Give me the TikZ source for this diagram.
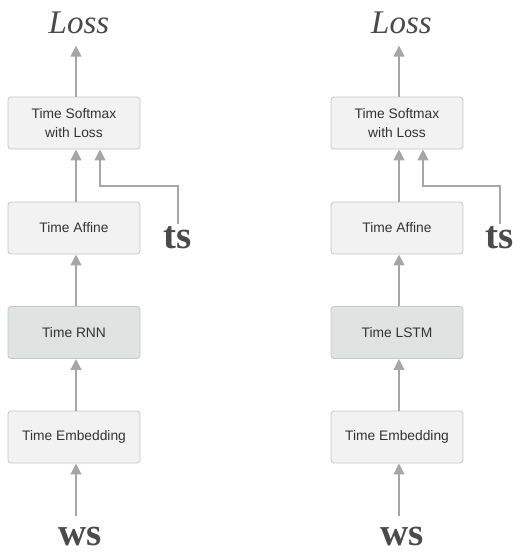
\documentclass[tikz,border=0pt]{standalone}
\usepackage{fontspec}
\setmainfont{Liberation Serif}
\newfontfamily\boxfont{Liberation Sans}
\usetikzlibrary{arrows.meta}
\definecolor{arrowgray}{HTML}{A6A6A6}
\definecolor{boxline}{HTML}{C6C6C6}
\definecolor{boxfill}{HTML}{F2F2F2}
\definecolor{rnnfill}{HTML}{E1E2E2}
\definecolor{labelgray}{HTML}{4A4A4A}
\definecolor{boxtext}{HTML}{333333}
\begin{document}
\begin{tikzpicture}[x=1pt,y=-1pt,
  layer/.style={draw=boxline, line width=0.8pt, fill=boxfill, rounded corners=3pt,
    minimum width=132pt, minimum height=52pt, inner sep=0pt, align=center,
    text=boxtext, font=\boxfont\fontsize{13.8}{19}\selectfont},
  rnnlayer/.style={layer, fill=rnnfill},
  arr/.style={draw=arrowgray, line width=2.4pt,
    -{Triangle[width=10.5pt,length=11pt]}},
  losslabel/.style={inner sep=0pt, anchor=base, text=labelgray,
    font=\itshape\fontsize{33}{33}\selectfont},
  datalabel/.style={inner sep=0pt, anchor=base, text=labelgray,
    font=\bfseries\fontsize{39}{39}\selectfont}]
\useasboundingbox (0,0) rectangle (527,555);

% left column: RNN language model
\node[layer] (smA) at (74,123) {Time Softmax\\with Loss};
\node[layer] (afA) at (74,228) {Time Affine};
\node[rnnlayer] (rnA) at (74,332.5) {Time RNN};
\node[layer] (emA) at (74,437) {Time Embedding};
\node[losslabel] (lossA) at (79,33.5) {Loss};
\node[datalabel] (tsA) at (178,248) {ts};
\node[datalabel] (wsA) at (80,545) {ws};
\coordinate (kA) at (100,186);

\draw[arr] ([xshift=2pt]smA.north) -- ([xshift=2pt,yshift=-11.5pt]smA.north |- lossA.south);
\draw[arr] ([xshift=2pt]afA.north) -- ([xshift=2pt]smA.south);
\draw[arr] ([xshift=2pt]rnA.north) -- ([xshift=2pt]afA.south);
\draw[arr] ([xshift=2pt]emA.north) -- ([xshift=2pt]rnA.south);
\draw[arr, shorten <=10pt] ([xshift=2pt]emA.south |- wsA.north) -- ([xshift=2pt]emA.south);
\draw[arr, shorten <=2pt] (tsA.north) |- (kA) -- (kA |- smA.south);

% right column: LSTM language model
\node[layer] (smB) at (397,123) {Time Softmax\\with Loss};
\node[layer] (afB) at (397,228) {Time Affine};
\node[rnnlayer] (rnB) at (397,332.5) {Time LSTM};
\node[layer] (emB) at (397,437) {Time Embedding};
\node[losslabel] (lossB) at (401.5,33.5) {Loss};
\node[datalabel] (tsB) at (500,248) {ts};
\node[datalabel] (wsB) at (402,545) {ws};
\coordinate (kB) at (423,186);

\draw[arr] ([xshift=2pt]smB.north) -- ([xshift=2pt,yshift=-11.5pt]smB.north |- lossB.south);
\draw[arr] ([xshift=2pt]afB.north) -- ([xshift=2pt]smB.south);
\draw[arr] ([xshift=2pt]rnB.north) -- ([xshift=2pt]afB.south);
\draw[arr] ([xshift=2pt]emB.north) -- ([xshift=2pt]rnB.south);
\draw[arr, shorten <=10pt] ([xshift=2pt]emB.south |- wsB.north) -- ([xshift=2pt]emB.south);
\draw[arr, shorten <=2pt] (tsB.north) |- (kB) -- (kB |- smB.south);
\end{tikzpicture}
\end{document}
